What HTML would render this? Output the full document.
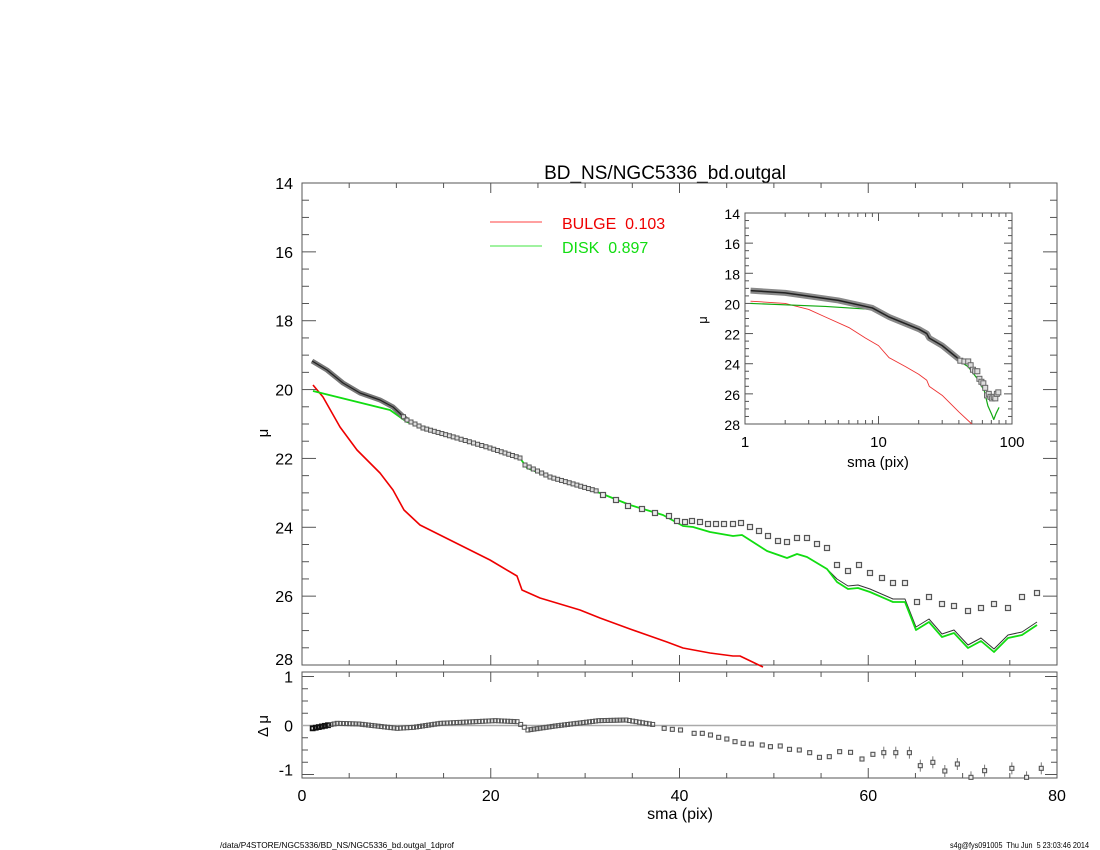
<!DOCTYPE html>
<html><head><meta charset="utf-8"><style>
body{margin:0;background:#fff}
svg{display:block}
text{font-family:"Liberation Sans",sans-serif;fill:#000;white-space:pre}
</style></head><body>
<svg id="s" width="1100" height="850" xmlns="http://www.w3.org/2000/svg">
<text x="665" y="179" font-size="19" text-anchor="middle">BD_NS/NGC5336_bd.outgal</text>
<line x1="490" y1="222" x2="542" y2="222" stroke="#f00" stroke-width="0.8"/>
<line x1="490" y1="246" x2="542" y2="246" stroke="#0d0" stroke-width="0.8"/>
<text x="562" y="229" font-size="16" style="fill:#e00">BULGE  0.103</text>
<text x="562" y="253" font-size="16" style="fill:#1d1">DISK  0.897</text>
<text x="268" y="433" font-size="15" text-anchor="middle" transform="rotate(-90 268 433)">μ</text>
<text x="268" y="726" font-size="15" text-anchor="middle" transform="rotate(-90 268 726)">Δ μ</text>
<text x="680" y="819" font-size="16" text-anchor="middle">sma (pix)</text>
<text x="878" y="467" font-size="15" text-anchor="middle">sma (pix)</text>
<text x="707" y="320" font-size="13" text-anchor="middle" transform="rotate(-90 707 320)">μ</text>
<text x="220" y="848" font-size="8.5" textLength="234" lengthAdjust="spacingAndGlyphs">/data/P4STORE/NGC5336/BD_NS/NGC5336_bd.outgal_1dprof</text>
<text x="950" y="848" font-size="8.5" textLength="139" lengthAdjust="spacingAndGlyphs">s4g@fys091005  Thu Jun  5 23:03:46 2014</text>
</svg>
<script>
var s=document.getElementById('s'),NS='http://www.w3.org/2000/svg';
function el(t,a){var e=document.createElementNS(NS,t);for(var k in a)e.setAttribute(k,a[k]);s.appendChild(e);return e;}
function txt(x,y,str,sz,anc){var e=el('text',{x:x,y:y,'font-size':sz,'text-anchor':anc||'middle'});e.textContent=str;}
function pl(pts,st,w){el('polyline',{points:pts.map(function(p){return p[0]+','+p[1]}).join(' '),fill:'none',stroke:st,'stroke-width':w,'stroke-linejoin':'round'});}
var L=302,R=1057,T=183,B=665,RT=672,RB=778;
var gx=function(v){return L+v*(R-L)/80};
var gy=function(m){return T+(m-14)*(B-T)/14};
el('rect',{x:L,y:T,width:R-L,height:B-T,fill:'none',stroke:'#555','stroke-width':1});
el('rect',{x:L,y:RT,width:R-L,height:RB-RT,fill:'none',stroke:'#555','stroke-width':1});
for(var v=0;v<=80;v+=5){var x=gx(v),big=v%20==0;var l=big?10:5;
 el('line',{x1:x,y1:B,x2:x,y2:B-l,stroke:'#555'});el('line',{x1:x,y1:T,x2:x,y2:T+l,stroke:'#555'});
 el('line',{x1:x,y1:RB,x2:x,y2:RB-l,stroke:'#555'});el('line',{x1:x,y1:RT,x2:x,y2:RT+l,stroke:'#555'});
 if(big)txt(x,801,String(v),16);}
for(var m=14;m<=28;m+=0.5){var y=gy(m),big=m%2==0,l=big?14:7;
 el('line',{x1:L,y1:y,x2:L+l,y2:y,stroke:'#555'});el('line',{x1:R,y1:y,x2:R-l,y2:y,stroke:'#555'});
 if(big)txt(293,y+(m==14?6:m==28?0:6),String(m),16,'end');}
var ry=function(d){return 725.5-d*49};
[1,0,-1].forEach(function(d){txt(293,ry(d)+(d==1?6:d==-1?1:6),String(d),16,'end');});
for(var d=-1;d<=1.001;d+=0.25){var y=ry(d),l=Math.abs(d%1)<0.01?12:6;el('line',{x1:L,y1:y,x2:L+l,y2:y,stroke:'#555'});el('line',{x1:R,y1:y,x2:R-l,y2:y,stroke:'#555'});}
el('line',{x1:L,y1:725.5,x2:R,y2:725.5,stroke:'#aaa','stroke-width':1.5});
pl([[313,385],[323,397],[340,427],[357,450],[380,473],[393,490],[404,510],[420,525],[450,540],[490,560],[517,576],[522,590],[540,598],[580,610],[600,618],[630,629],[667,642],[683,648],[710,653],[733,656],[740,656],[763,667]],'#e00',1.6);
var gm=[[313,391],[390,410],[407,422],[440,432],[520,458],[527,468],[550,477],[600,493],[630,505],[663,515],[683,526],[693,527],[710,532],[733,536],[742,535],[767,551],[787,558],[797,554],[807,557],[827,569],[837,582],[848,589],[858,588],[870,592],[893,602],[905,602],[916,630],[929,622],[942,637],[954,633],[968,648],[981,641],[994,652],[1008,638],[1022,635],[1037,625]];
pl(gm.map(function(p){return [p[0],p[1]-(p[0]>830?3:0)]}),'#333',1);
pl(gm,'#1d1',1.8);
var ob=[[312,361],[327,370],[343,383],[360,393],[380,400],[393,407],[407,420],[423,428],[457,438],[490,448],[520,458],[525,465],[550,477],[600,492]];
pl(ob.filter(function(p){return p[0]<=420}),'#777',5);pl(ob.filter(function(p){return p[0]<=420}),'#222',1.2);
for(var i=0;i<ob.length-1;i++){var a=ob[i],b=ob[i+1],n=Math.max(1,Math.round((b[0]-a[0])/4));for(var k=0;k<n;k++){var x=a[0]+(b[0]-a[0])*k/n,y=a[1]+(b[1]-a[1])*k/n;if(x>400)el('rect',{x:x-2,y:y-2,width:4,height:4,fill:'#ddd',stroke:'#555','stroke-width':1});}}
var sq=[[603,495],[616,500],[628,506],[642,509],[655,513],[669,516],[677,521],[685,522],[692,521],[700,522],[708,524],[716,524],[724,524],[733,524],[741,523],[750,527],[759,531],[768,536],[778,541],[787,542],[797,538],[807,538],[817,544],[827,548],[837,565],[848,571],[859,565],[870,573],[882,578],[893,583],[905,583],[917,602],[929,597],[942,604],[954,606],[968,611],[981,608],[994,604],[1008,608],[1022,597],[1037,593]];
sq.forEach(function(p){el('rect',{x:p[0]-2.5,y:p[1]-2.5,width:5,height:5,fill:'#eee',stroke:'#555','stroke-width':1.2});});
var rdp=[[115,265],[160,250],[200,252],[270,265],[300,262],[350,250],[450,242],[490,245],[510,270],[560,258],[640,242],[690,240],[745,255]].map(function(p){return [250+p[0]/1.835,640+p[1]/3]});
for(var i=0;i<rdp.length-1;i++){var a=rdp[i],b=rdp[i+1],n=Math.max(1,Math.round((b[0]-a[0])/3.2));for(var k=0;k<n;k++){var x=a[0]+(b[0]-a[0])*k/n,y=a[1]+(b[1]-a[1])*k/n;el('rect',{x:x-2,y:y-2,width:4,height:4,fill:'none',stroke:(x<330?'#111':'#555'),'stroke-width':(x<330?1.8:1)});}}
var rs=[[760,265],[775,268],[790,270],[815,280],[830,280],[845,285],[860,292],[875,297],[890,305],[905,310],[920,312],[940,315],[955,320],[973,318],[990,328],[1008,330],[1027,338],[1045,352],[1063,350],[1082,335],[1102,337],[1123,357],[1143,343],[1163,338],[1185,338],[1210,338],[1230,377],[1253,367],[1275,393],[1298,372],[1323,412],[1348,392],[1398,385],[1425,412],[1452,385]];
rs.forEach(function(p){var x=250+p[0]/1.835,y=640+p[1]/3;if(x>880)el('line',{x1:x,y1:y-6,x2:x,y2:Math.min(y+6,RB),stroke:'#777'});el('rect',{x:x-2,y:y-2,width:4,height:4,fill:'#eee',stroke:'#555','stroke-width':1.1});});
var IL=745,IR=1012,IT=213,IB=424;
var ix=function(v){return IL+(IR-IL)/2*Math.log10(v)};var iy=function(m){return IT+(m-14)*(IB-IT)/14};
el('rect',{x:IL,y:IT,width:IR-IL,height:IB-IT,fill:'#fff',stroke:'#555'});
[1,2,3,4,5,6,7,8,9,10,20,30,40,50,60,70,80,90,100].forEach(function(v){var x=ix(v),big=(v==1||v==10||v==100),l=big?8:4;el('line',{x1:x,y1:IB,x2:x,y2:IB-l,stroke:'#555'});el('line',{x1:x,y1:IT,x2:x,y2:IT+l,stroke:'#555'});if(big)txt(x,447,String(v),15);});
for(var m=14;m<=28;m+=0.5){var y=iy(m),big=m%2==0,l=big?8:4;el('line',{x1:IL,y1:y,x2:IL+l,y2:y,stroke:'#555'});el('line',{x1:IR,y1:y,x2:IR-l,y2:y,stroke:'#555'});if(big)txt(740,y+6,String(m),14,'end');}
function ip(a){return a.map(function(p){return [ix(p[0]),iy(p[1])]})}
pl(ip([[1.1,19.85],[2,20.0],[3,20.4],[4,20.9],[6,21.6],[8,22.3],[10,22.8],[12,23.6],[16,24.2],[20,24.7],[23,25.1],[24,25.5],[30,26.1],[40,27.2],[50,28.0]]),'#e33',0.9);
pl(ip([[1.1,20.0],[4,20.2],[9,20.4],[12,20.9],[20,21.7],[23,22.0],[24,22.3],[30,22.9],[40,23.8],[47,24.2],[55,25.0],[62,25.8],[66,26.8],[70,27.3],[73,27.7],[76,27.3],[80,26.9]]),'#1a1',1.2);
var io=ip([[1.1,19.15],[2,19.3],[5,19.8],[9,20.3],[12,20.9],[20,21.7],[23,22.0],[24,22.3],[30,22.8],[40,23.7]]);
pl(io,'#888',6);pl(io,'#222',1.5);
ip([[41,23.8],[44,23.85],[47,23.85],[49,24.1],[51,24.4],[53,24.5],[55,24.5],[57,25.0],[59,25.2],[61,25.3],[63,25.6],[65,26.1],[67,26.0],[69,26.2],[71,26.3],[73,26.2],[75,26.3],[77,26.0],[79,25.9]]).forEach(function(p){el('rect',{x:p[0]-2.5,y:p[1]-2.5,width:5,height:5,fill:'#ddd',stroke:'#666'});});
</script>
</body></html>
